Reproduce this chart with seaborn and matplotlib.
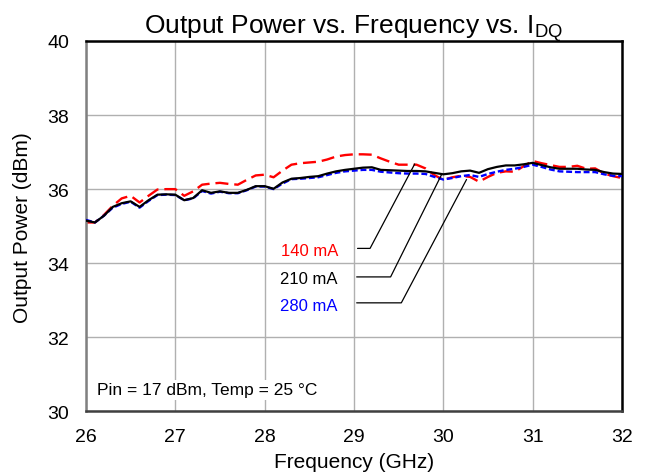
import numpy as np
import pandas as pd
import matplotlib
matplotlib.use('Agg')
import matplotlib.pyplot as plt
import seaborn as sns

# frekvencija (GHz), korak 0.1
freq = np.round(np.arange(26.0, 32.01, 0.1), 1)

# izlazna snaga (dBm) za tri struje
p_140 = [35.10, 35.10, 35.30, 35.55, 35.75, 35.82, 35.64, 35.82, 35.99, 36.00,
         36.00, 35.82, 35.94, 36.12, 36.15, 36.17, 36.14, 36.12, 36.25, 36.37,
         36.39, 36.32, 36.50, 36.66, 36.70, 36.72, 36.74, 36.80, 36.88, 36.92,
         36.94, 36.94, 36.93, 36.83, 36.74, 36.66, 36.66, 36.66, 36.56, 36.38,
         36.25, 36.32, 36.36, 36.33, 36.20, 36.33, 36.44, 36.48, 36.47, 36.62,
         36.76, 36.70, 36.65, 36.60, 36.60, 36.63, 36.55, 36.56, 36.42, 36.35,
         36.30]
p_210 = [35.15, 35.10, 35.28, 35.52, 35.62, 35.67, 35.52, 35.70, 35.85, 35.86,
         35.85, 35.70, 35.76, 35.97, 35.90, 35.94, 35.90, 35.90, 35.98, 36.08,
         36.08, 36.01, 36.18, 36.28, 36.30, 36.33, 36.35, 36.42, 36.48, 36.52,
         36.55, 36.58, 36.59, 36.52, 36.51, 36.50, 36.49, 36.49, 36.48, 36.44,
         36.40, 36.43, 36.48, 36.50, 36.44, 36.54, 36.60, 36.64, 36.64, 36.67,
         36.71, 36.65, 36.59, 36.55, 36.55, 36.55, 36.53, 36.52, 36.46, 36.42,
         36.41]
p_280 = [35.17, 35.10, 35.28, 35.50, 35.60, 35.66, 35.50, 35.68, 35.84, 35.85,
         35.84, 35.70, 35.75, 35.95, 35.88, 35.93, 35.89, 35.89, 35.97, 36.07,
         36.07, 36.00, 36.15, 36.27, 36.28, 36.30, 36.32, 36.38, 36.44, 36.48,
         36.50, 36.52, 36.52, 36.47, 36.45, 36.43, 36.42, 36.42, 36.41, 36.33,
         36.26, 36.30, 36.35, 36.38, 36.33, 36.41, 36.47, 36.52, 36.55, 36.60,
         36.66, 36.60, 36.53, 36.48, 36.47, 36.46, 36.46, 36.46, 36.40, 36.36,
         36.35]

labels = ['140 mA', '210 mA', '280 mA']
colors = ['#ff0000', '#000000', '#0000ff']

df = pd.DataFrame({'freq': np.tile(freq, 3),
                   'power': p_140 + p_210 + p_280,
                   'idq': np.repeat(labels, len(freq))})

sns.set_style('white')
plt.rcParams['font.family'] = ['Liberation Sans', 'DejaVu Sans']
plt.rcParams['text.color'] = 'black'
plt.rcParams['axes.labelcolor'] = 'black'
plt.rcParams['xtick.color'] = 'black'
plt.rcParams['ytick.color'] = 'black'

fig = plt.figure(figsize=(6.45, 4.77), dpi=100)
ax = fig.add_axes([0.1333, 0.1355, 0.8310, 0.7765])

# crtanje redom: crvena, plava, crna na vrhu
order = [('140 mA', '#ff0000', (5.5, 2.5), 1.7, 2),
         ('280 mA', '#0000ff', (2.5, 1.2), 1.7, 3),
         ('210 mA', '#000000', None, 1.6, 4)]
for lab, c, dash, lw, z in order:
    sub = df[df['idq'] == lab]
    sns.lineplot(data=sub, x='freq', y='power', color=c, lw=lw, ax=ax,
                 zorder=z, estimator=None)
    if dash is not None:
        ax.lines[-1].set_dashes(dash)

ax.set_xlim(26, 32)
ax.set_ylim(30, 40)
ax.set_xticks(range(26, 33))
ax.set_yticks(range(30, 41, 2))
ax.grid(True, color='#b0b0b0', lw=1.0, zorder=0)
ax.set_axisbelow(True)
ax.tick_params(labelsize=14, length=0, pad=12)
ax.set_xlabel('Frequency (GHz)', fontsize=15, labelpad=5)
ax.set_ylabel('Output Power (dBm)', fontsize=15, labelpad=11)
ax.set_title('Output Power vs. Frequency vs. I$_{\\mathregular{DQ}}$', fontsize=19, pad=6)

for side, c in [('left', '#808080'), ('top', 'black'), ('bottom', '#404040'), ('right', 'black')]:
    ax.spines[side].set_color(c)
    ax.spines[side].set_linewidth(1.8)

# oznake s linijama
lead = [([29.04, 29.18, 29.68], [34.40, 34.40, 36.68], 34.33),
        ([29.03, 29.41, 29.98], [33.63, 33.63, 36.39], 33.59),
        ([29.03, 29.53, 30.26], [32.93, 32.93, 36.26], 32.85)]
for (lx, ly, ty), lab, c in zip(lead, labels, colors):
    ax.plot(lx, ly, color='black', lw=0.9, zorder=5)
    ax.text(28.82, ty, lab, color=c, fontsize=12, ha='right', va='center', zorder=6,
            bbox=dict(facecolor='white', edgecolor='none', pad=2))

ax.text(26.12, 30.58, 'Pin = 17 dBm, Temp = 25 \u00b0C', fontsize=12.5, ha='left',
        va='center', zorder=6, bbox=dict(facecolor='white', edgecolor='none', pad=2))

fig.savefig('out.png', dpi=100)
